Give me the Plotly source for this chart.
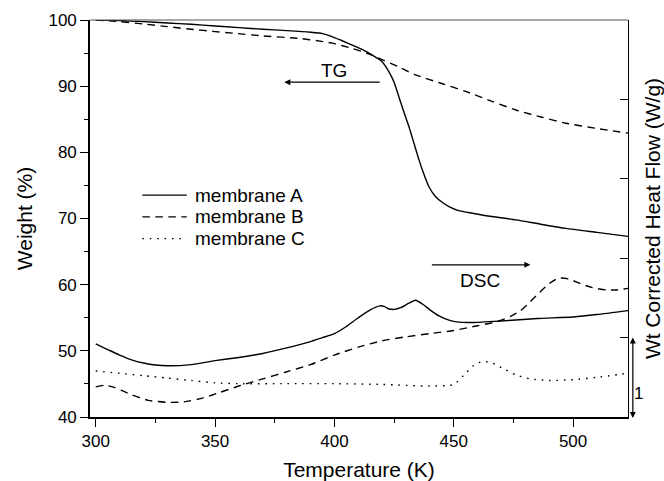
import plotly.graph_objects as go

# ---------------- data ----------------
# TG curves (Weight %, left axis)
tg_a_temp = [300, 310, 320, 330, 340, 350, 360, 370, 380, 390, 395, 399, 403, 407.5, 412, 415.8, 420,
             422.8, 425, 427, 429, 431.2, 433.3, 435.4, 437.5, 439.6, 442.4, 445, 448, 452, 457.8,
             466, 476, 487, 497, 510, 523]
tg_a_weight = [100.0, 99.9, 99.75, 99.55, 99.35, 99.1, 98.85, 98.6, 98.4, 98.15, 97.95, 97.5, 96.9, 96.2,
               95.5, 94.7, 93.7, 92.2, 90.6, 88.4, 86.2, 83.9, 81.4, 78.9, 76.7, 74.8, 73.3, 72.5,
               71.8, 71.2, 70.8, 70.3, 69.8, 69.1, 68.5, 67.9, 67.3]

tg_b_temp = [300, 310, 320, 330, 340, 350, 357.7, 370, 385.7, 394, 399, 407.5, 415.8, 420, 427, 434,
             445, 455, 466, 476, 487, 497, 510, 523]
tg_b_weight = [100.0, 99.75, 99.4, 99.0, 98.6, 98.25, 98.0, 97.6, 97.2, 96.8, 96.5, 95.7, 94.7, 94.0,
               92.9, 91.7, 90.4, 89.2, 87.7, 86.4, 85.3, 84.4, 83.6, 82.9]

# DSC curves (Wt corrected heat flow, W/g, right axis; arbitrary offset)
dsc_a_temp = [300, 305, 310, 315, 320, 325, 330, 340, 350, 360, 370, 380, 390, 395, 400, 405, 410,
              415, 419, 421, 423, 425, 428, 431, 434, 437, 440, 444, 448, 452, 458, 470, 485, 500,
              510, 523]
dsc_a_flow = [0.92, 0.85, 0.78, 0.72, 0.68, 0.655, 0.645, 0.66, 0.71, 0.75, 0.80, 0.87, 0.95, 1.0,
              1.05, 1.14, 1.25, 1.35, 1.40, 1.39, 1.36, 1.355, 1.38, 1.43, 1.47, 1.42, 1.35, 1.27,
              1.22, 1.195, 1.19, 1.21, 1.24, 1.26, 1.29, 1.34]

dsc_b_temp = [300, 304, 308, 315, 322, 330, 337, 345, 352, 360, 370, 380, 390, 400, 410, 420, 430,
              440, 450, 460, 468, 474, 478, 482, 486, 490, 494, 498, 503, 508, 514, 518, 523]
dsc_b_flow = [0.38, 0.40, 0.37, 0.28, 0.21, 0.185, 0.19, 0.24, 0.31, 0.39, 0.48, 0.57, 0.66, 0.78,
              0.88, 0.96, 1.01, 1.05, 1.09, 1.15, 1.20, 1.27, 1.34, 1.45, 1.57, 1.68, 1.75, 1.74,
              1.68, 1.63, 1.60, 1.60, 1.62]

dsc_c_temp = [300, 310, 320, 330, 340, 350, 360, 380, 400, 420, 440, 450, 454, 458, 462, 466, 470,
              476, 482, 490, 500, 510, 523]
dsc_c_flow = [0.58, 0.55, 0.52, 0.49, 0.46, 0.43, 0.42, 0.42, 0.42, 0.41, 0.39, 0.41, 0.52, 0.64,
              0.70, 0.68, 0.62, 0.53, 0.48, 0.46, 0.47, 0.50, 0.55]

names = ["membrane A", "membrane B", "membrane C"]
x_ticks = [300, 350, 400, 450, 500]
y_ticks = [40, 50, 60, 70, 80, 90, 100]

FONT = "Liberation Sans, Arial, Helvetica, sans-serif"
LW = 1.4
DASH_B = "7.5px,5.5px"
DOT_C = "1.6px,5.8px"
styles = [None, DASH_B, DOT_C]

fig = go.Figure()

# TG traces (left axis)
fig.add_trace(go.Scatter(x=tg_a_temp, y=tg_a_weight, mode="lines", name=names[0], showlegend=False,
                         line=dict(color="black", width=LW, shape="spline", smoothing=0.6)))
fig.add_trace(go.Scatter(x=tg_b_temp, y=tg_b_weight, mode="lines", name=names[1], showlegend=False,
                         line=dict(color="black", width=LW, dash=DASH_B, shape="spline", smoothing=0.6)))
# DSC traces (right axis)
fig.add_trace(go.Scatter(x=dsc_a_temp, y=dsc_a_flow, mode="lines", name=names[0], yaxis="y2",
                         showlegend=False,
                         line=dict(color="black", width=LW, shape="spline", smoothing=0.6)))
fig.add_trace(go.Scatter(x=dsc_b_temp, y=dsc_b_flow, mode="lines", name=names[1], yaxis="y2",
                         showlegend=False,
                         line=dict(color="black", width=LW, dash=DASH_B, shape="spline", smoothing=0.6)))
fig.add_trace(go.Scatter(x=dsc_c_temp, y=dsc_c_flow, mode="lines", name=names[2], yaxis="y2",
                         showlegend=False,
                         line=dict(color="black", width=LW, dash=DOT_C, shape="spline", smoothing=0.6)))

fig.update_layout(
    width=664, height=481,
    margin=dict(l=90, r=36, t=20, b=64, autoexpand=False),
    paper_bgcolor="white", plot_bgcolor="white",
    font=dict(family=FONT, color="black", size=17),
    showlegend=False,
    xaxis=dict(range=[297.6, 523], tickvals=x_ticks, ticks="outside", ticklen=8, tickwidth=1.3,
               tickcolor="black", showline=True, linecolor="black", linewidth=1.6, automargin=False,
               showgrid=False, zeroline=False, tickfont=dict(size=17),
               minor=dict(dtick=25, tick0=0, ticks="outside", ticklen=4, tickwidth=1.1, tickcolor="black"),
               title=dict(text="Temperature (K)", font=dict(size=21), standoff=19)),
    yaxis=dict(range=[40, 100], tickvals=y_ticks, ticks="outside", ticklen=8, tickwidth=1.3,
               tickcolor="black", showline=True, linecolor="black", linewidth=1.6, automargin=False,
               showgrid=False, zeroline=False, tickfont=dict(size=17),
               minor=dict(dtick=5, tick0=0, ticks="outside", ticklen=4, tickwidth=1.1, tickcolor="black"),
               title=dict(text="Weight (%)", font=dict(size=21), standoff=10)),
    yaxis2=dict(range=[0, 5], dtick=1, overlaying="y", side="right", ticks="inside", ticklen=8,
                tickwidth=1.2, tickcolor="black", showline=True, linecolor="black", linewidth=1.4,
                automargin=False,
                showgrid=False, zeroline=False, showticklabels=False,
                title=dict(text="Wt Corrected Heat Flow (W/g)", font=dict(size=21), standoff=30)),
)

# top frame line
fig.add_shape(type="line", xref="paper", yref="paper", x0=0, x1=1, y0=1, y1=1,
              line=dict(color="#555555", width=1.2))

# legend (drawn in the plot area, as in the reference)
leg_x0, leg_x1, leg_tx = 0.0973, 0.1799, 0.1922
leg_y = [0.5589, 0.5042, 0.4492]
for name, dash, yy in zip(names, styles, leg_y):
    line = dict(color="black", width=LW)
    if dash:
        line["dash"] = dash
    fig.add_shape(type="line", xref="paper", yref="paper", x0=leg_x0, x1=leg_x1, y0=yy, y1=yy,
                  line=line)
    fig.add_annotation(x=leg_tx, y=yy, xref="paper", yref="paper", text=name, showarrow=False,
                       xanchor="left", yanchor="middle", font=dict(size=19))

# TG label and arrow
fig.add_annotation(x=399.7, y=92.3, xref="x", yref="y", text="TG", showarrow=False,
                   font=dict(size=19))
fig.add_annotation(x=379.0, y=90.6, ax=419.6, ay=90.6, xref="x", yref="y", axref="x", ayref="y",
                   text="", showarrow=True, arrowhead=2, arrowsize=1, arrowwidth=1.2, arrowcolor="black")
# DSC label and arrow
fig.add_annotation(x=461.1, y=60.7, xref="x", yref="y", text="DSC", showarrow=False,
                   font=dict(size=19))
fig.add_annotation(x=482.1, y=63.0, ax=440.2, ay=63.0, xref="x", yref="y", axref="x", ayref="y",
                   text="", showarrow=True, arrowhead=2, arrowsize=1, arrowwidth=1.2, arrowcolor="black")
# scale bar (1 W/g)
fig.add_annotation(x=1.009, y=1, xref="paper", yref="y2", axref="pixel", ayref="pixel", ax=0, ay=82,
                   text="", showarrow=True, arrowhead=2, startarrowhead=2, arrowside="end+start",
                   arrowsize=1, arrowwidth=1.2, arrowcolor="black")
fig.add_annotation(x=1.031, y=0.30, xref="paper", yref="y2", text="1", showarrow=False,
                   font=dict(size=17))

fig.write_html("out.html")
